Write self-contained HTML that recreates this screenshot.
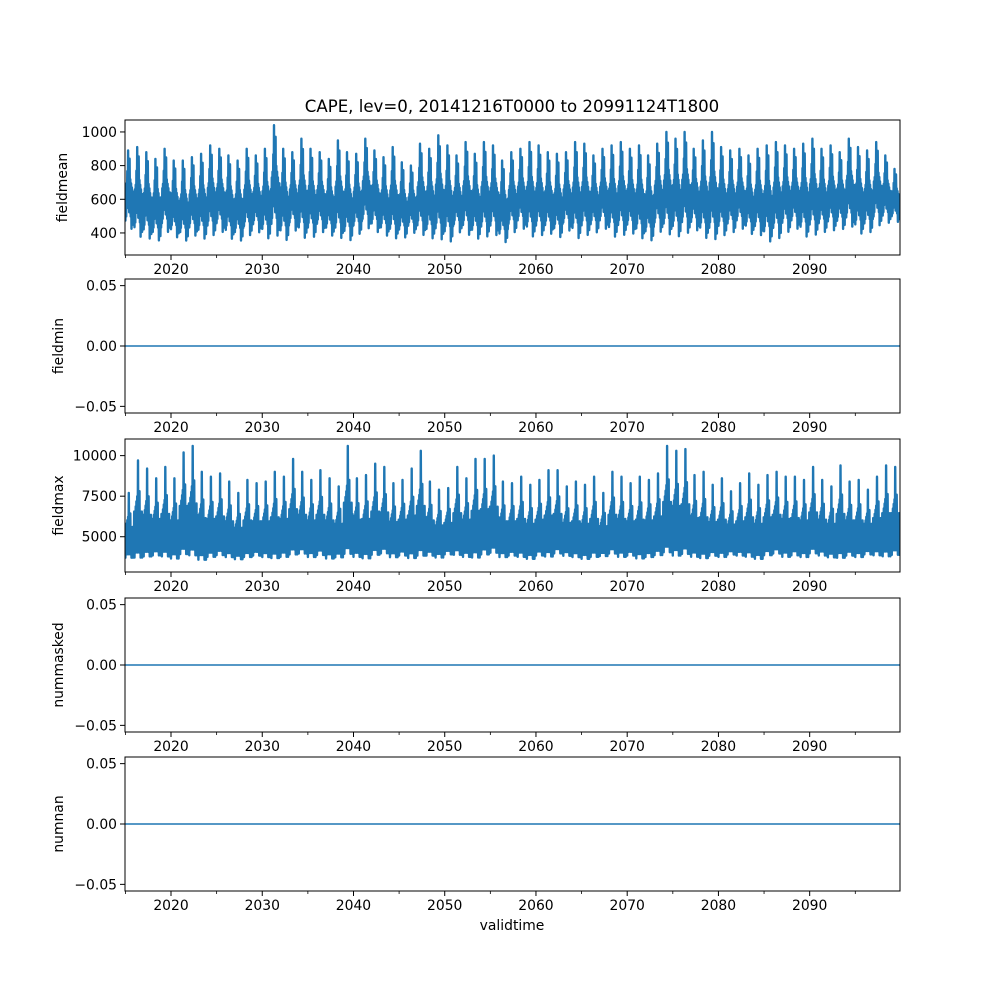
<!DOCTYPE html>
<html><head><meta charset="utf-8">
<style>
body{margin:0;background:#fff;}
svg{display:block;font-family:"DejaVu Sans","Liberation Sans",sans-serif;}
text{fill:#000;}
</style></head>
<body>
<svg id="fig" width="1000" height="1000" viewBox="0 0 1000 1000">
<rect x="0" y="0" width="1000" height="1000" fill="#fff"/>
<text x="512" y="112" font-size="16.6" text-anchor="middle">CAPE, lev=0, 20141216T0000 to 20991124T1800</text>
<text x="512" y="930" font-size="13.9" text-anchor="middle">validtime</text>
</svg>
<script>
const xTickLabels=["2020","2030","2040","2050","2060","2070","2080","2090"];
const xTickYears=[2020,2030,2040,2050,2060,2070,2080,2090];
const xMinorYears=[2015,2025,2035,2045,2055,2065,2075,2085,2095];
const years=[];for(let y=2015;y<=2099;y++)years.push(y);
const meanPeak=[890,910,880,840,900,830,830,850,870,920,900,860,830,900,860,900,1040,900,880,960,900,880,840,950,880,870,960,890,850,910,820,800,930,900,980,920,860,940,870,940,920,830,880,900,940,920,880,870,880,940,930,860,900,920,940,900,920,860,930,1000,960,1000,900,950,1000,910,890,900,860,900,920,940,920,900,930,960,900,920,880,960,910,890,940,860,780];
const meanTrough=[400,350,340,330,380,350,330,360,340,360,380,340,330,360,380,340,350,330,390,340,350,380,360,340,330,370,400,380,360,340,350,380,360,340,330,320,380,360,340,350,360,320,380,400,350,360,370,350,390,340,360,380,400,350,360,370,340,330,380,360,350,370,390,340,330,360,380,400,370,360,320,340,380,400,350,360,380,390,400,410,370,380,420,440,450];
const maxPeak=[7700,9700,9200,8600,9300,8600,10200,10600,9000,8700,8900,8400,7700,8500,8300,8400,9000,8700,9800,9000,8500,9100,8600,8100,10600,8600,8800,9500,9300,8300,8500,9200,10300,8400,7900,8000,9300,8600,9800,9800,10000,8400,8300,8700,8200,8500,9100,9100,8100,8400,8200,8700,7700,9000,8700,8300,8700,8500,8900,10600,10300,10400,8800,9000,8200,8600,7800,8300,8900,8200,8800,9000,8700,8700,8500,9300,8500,8100,9400,8400,8500,7900,8700,9400,9300];
const maxTrough=[3500,3400,3500,3600,3500,3400,3600,3500,3300,3500,3600,3500,3400,3500,3600,3500,3400,3500,3600,3700,3500,3600,3400,3500,3600,3500,3400,3600,3700,3500,3600,3400,3500,3600,3500,3700,3600,3500,3400,3600,3700,3500,3600,3500,3400,3600,3500,3700,3600,3500,3400,3500,3600,3700,3500,3600,3400,3500,3600,3700,3500,3600,3500,3400,3600,3500,3700,3600,3500,3400,3600,3700,3500,3600,3500,3700,3600,3500,3400,3600,3500,3700,3600,3500,3600];
const zeroValues=[0,0];
const meanTicks=[400,600,800,1000];
const maxTicks=[5000,7500,10000];
const zeroTicks=[-0.05,0,0.05];
const zeroTickLabels=["\u22120.05","0.00","0.05"];

const NS="http://www.w3.org/2000/svg";
const fig=document.getElementById('fig');
const X0=125,X1=900,T0=2014.957,T1=2099.9;
function xs(t){return X0+(t-T0)/(T1-T0)*(X1-X0);}
function mk(tag,attrs,parent){const e=document.createElementNS(NS,tag);for(const k in attrs)e.setAttribute(k,attrs[k]);(parent||fig).appendChild(e);return e;}
const shapeMean=[0.45,0.15,0.55,0.2,0.6,0.3,0.75,0.35,1.0,0.4,0.8,0.25,0.9,0.35,0.65,0.2,0.6,0.05,0.55,0.15,0.5,0.1,0.5,0.2];
const shapeMax=[0.5,0.05,0.45,0.15,0.55,0.1,0.6,0.2,0.65,0.1,1.0,0.25,0.6,0.1,0.7,0.15,0.5,0.05,0.45,0.1,0.5,0.05,0.4,0.1];

const panels=[
 {name:'fieldmean',top:120,bot:255,lo:269,hi:1071,ticks:meanTicks,labels:meanTicks.map(String),peak:meanPeak,trough:meanTrough,shape:shapeMean,lx:67},
 {name:'fieldmin',top:279,bot:413,lo:-0.0555,hi:0.0555,ticks:zeroTicks,labels:zeroTickLabels,zero:true,lx:63},
 {name:'fieldmax',top:439,bot:572,lo:2826,hi:11025,ticks:maxTicks,labels:maxTicks.map(String),peak:maxPeak,trough:maxTrough,shape:shapeMax,lx:63},
 {name:'nummasked',top:598,bot:732,lo:-0.0555,hi:0.0555,ticks:zeroTicks,labels:zeroTickLabels,zero:true,lx:63},
 {name:'numnan',top:757,bot:891,lo:-0.0555,hi:0.0555,ticks:zeroTicks,labels:zeroTickLabels,zero:true,lx:63}
];
panels.forEach(p=>{
 const g=mk('g',{});
 
 
 const ys=v=>p.bot-(v-p.lo)/(p.hi-p.lo)*(p.bot-p.top);
 const cp=mk('clipPath',{id:'cp-'+p.name},g);
 mk('rect',{x:X0,y:p.top,width:X1-X0,height:p.bot-p.top},cp);
 let d='';
 if(p.zero){
  d='M'+X0+','+ys(zeroValues[0])+'L'+X1+','+ys(zeroValues[1]);
 }else{
  const n=p.shape.length;
  years.forEach((yr,i)=>{
   p.shape.forEach((s,k)=>{
    const t=yr-0.04+k/n;
    const v=p.trough[i]+(p.peak[i]-p.trough[i])*s;
    d+=(d?'L':'M')+xs(t).toFixed(1)+','+ys(v).toFixed(1);
   });
  });
 }
 const line=mk('path',{d:d,fill:'none',stroke:'#1f77b4','stroke-width':p.zero?1.5:2.4,'stroke-linejoin':'round','clip-path':'url(#cp-'+p.name+')'},g);
 
 
 const fr=mk('rect',{x:X0,y:p.top,width:X1-X0,height:p.bot-p.top,fill:'none',stroke:'#000','stroke-width':1},g);
 
 
 xTickYears.forEach((yr,i)=>{
  const x=xs(yr);
  mk('line',{x1:x,x2:x,y1:p.bot,y2:p.bot+5,stroke:'#000','stroke-width':1},g);
  const tl=mk('text',{x:x,y:p.bot+19,'font-size':13.9,'text-anchor':'middle'},g);
  tl.textContent=xTickLabels[i];
  
  
 });
 xMinorYears.forEach(yr=>{const x=xs(yr);mk('line',{x1:x,x2:x,y1:p.bot,y2:p.bot+3,stroke:'#000','stroke-width':0.8},g);});
 p.ticks.forEach((v,i)=>{
  const y=ys(v);
  mk('line',{x1:X0-5,x2:X0,y1:y,y2:y,stroke:'#000','stroke-width':1},g);
  const tl=mk('text',{x:X0-8,y:y+5,'font-size':13.9,'text-anchor':'end'},g);
  tl.textContent=p.labels[i];
  
  
 });
 const cy=(p.top+p.bot)/2;
 const yl=mk('text',{x:p.lx,y:cy,'font-size':13.9,'text-anchor':'middle',transform:'rotate(-90 '+p.lx+' '+cy+')'},g);
 yl.textContent=p.name;
 
 
});
</script>
</body></html>
